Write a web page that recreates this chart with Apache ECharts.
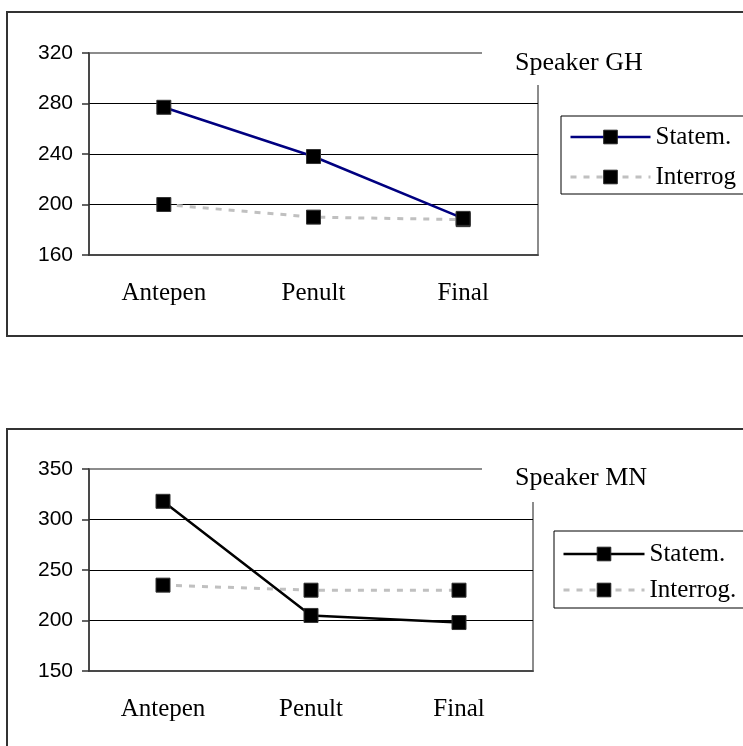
<!DOCTYPE html>
<html>
<head>
<meta charset="utf-8">
<script src="https://cdn.jsdelivr.net/npm/echarts@6/dist/echarts.min.js"></script>
<style>
  html, body { margin:0; padding:0; background:#fff; width:743px; height:746px; overflow:hidden; }
  .box { position:absolute; box-sizing:border-box; border:2px solid #333; background:#fff; }
  .chart { position:absolute; left:0; top:0; width:743px; height:746px; }
</style>
</head>
<body>
<div class="box" style="left:6px; top:11px; width:780px; height:326px;"></div>
<div class="box" style="left:6px; top:428px; width:780px; height:360px;"></div>
<div id="c1" class="chart"></div>
<div id="c2" class="chart"></div>
<script>
const categories = ['Antepen', 'Penult', 'Final'];
const ghStatem = [277, 238, 189];
const ghInterrog = [200, 190, 188];
const mnStatem = [318, 205, 198];
const mnInterrog = [235, 230, 230];
const ghLegend = ['Statem.', 'Interrog'];
const mnLegend = ['Statem.', 'Interrog.'];

function build(cfg) {
  return {
    animation: false,
    backgroundColor: 'transparent',
    title: {
      text: cfg.title, left: 482, top: cfg.titleTop, padding: cfg.titlePad,
      backgroundColor: '#fff',
      textStyle: { fontFamily: 'Liberation Serif', fontSize: 26, fontWeight: 'normal', color: '#000', lineHeight: 26 }
    },
    legend: {
      orient: 'vertical', left: cfg.legLeft, top: cfg.legTop, padding: cfg.legPad,
      borderColor: '#000', borderWidth: 1, itemWidth: cfg.legItemWidth, itemHeight: 17, itemGap: cfg.legGap,
      lineStyle: { width: 'inherit' },
      itemStyle: { color: '#000', borderColor: '#222', borderWidth: 1 },
      textStyle: { fontFamily: 'Liberation Serif', fontSize: 25, color: '#000', lineHeight: 26 },
      data: cfg.legend, selectedMode: false
    },
    grid: {
      left: 89, top: cfg.gridTop, width: cfg.gridWidth, height: 202,
      show: true, borderColor: '#8c8c8c', borderWidth: 2, backgroundColor: 'transparent'
    },
    xAxis: {
      type: 'category', data: categories, boundaryGap: true,
      axisLine: { lineStyle: { color: '#333', width: 1.5 } },
      axisTick: { length: 8, lineStyle: { color: '#333', width: 1.5 } },
      axisLabel: { fontFamily: 'Liberation Serif', fontSize: 25, color: '#000', margin: 26 },
      splitLine: { show: false }
    },
    yAxis: {
      type: 'value', min: cfg.min, max: cfg.max, interval: cfg.interval,
      axisLine: { show: true, lineStyle: { color: '#333', width: 1.5 } },
      axisTick: { show: true, length: 7, lineStyle: { color: '#333', width: 1.5 } },
      axisLabel: { fontFamily: 'Liberation Sans', fontSize: 21, color: '#000', margin: 16 },
      splitLine: { show: true, showMaxLine: false, showMinLine: false, lineStyle: { color: '#000', width: 1 } }
    },
    series: [
      {
        name: cfg.legend[0], type: 'line', data: cfg.statem,
        symbol: 'rect', symbolSize: 14, showSymbol: true,
        itemStyle: { color: '#000', borderColor: '#333', borderWidth: 1 },
        lineStyle: { color: cfg.statemColor, width: 2.5 },
        emphasis: { disabled: true }, z: 3
      },
      {
        name: cfg.legend[1], type: 'line', data: cfg.interrog,
        symbol: 'rect', symbolSize: 14, showSymbol: true,
        itemStyle: { color: '#000', borderColor: '#333', borderWidth: 1 },
        lineStyle: { color: '#c0c0c0', width: 3, type: [6, 7] },
        emphasis: { disabled: true }, z: 2
      }
    ]
  };
}

const c1 = echarts.init(document.getElementById('c1'), null, { renderer: 'canvas' });
c1.setOption(build({
  title: 'Speaker GH', titleTop: 37, titlePad: [13, 10, 9, 33],
  legLeft: 561, legTop: 116, legPad: [8, 10, 4, 8], legGap: 14, legItemWidth: 80,
  legend: ghLegend, gridTop: 53, gridWidth: 449,
  min: 160, max: 320, interval: 40,
  statem: ghStatem, interrog: ghInterrog, statemColor: '#000080'
}));

const c2 = echarts.init(document.getElementById('c2'), null, { renderer: 'canvas' });
c2.setOption(build({
  title: 'Speaker MN', titleTop: 452, titlePad: [13, 10, 11, 33],
  legLeft: 554, legTop: 531, legPad: [10, 10, 5, 8], legGap: 10, legItemWidth: 81,
  legend: mnLegend, gridTop: 469, gridWidth: 444,
  min: 150, max: 350, interval: 50,
  statem: mnStatem, interrog: mnInterrog, statemColor: '#000'
}));
</script>
</body>
</html>
